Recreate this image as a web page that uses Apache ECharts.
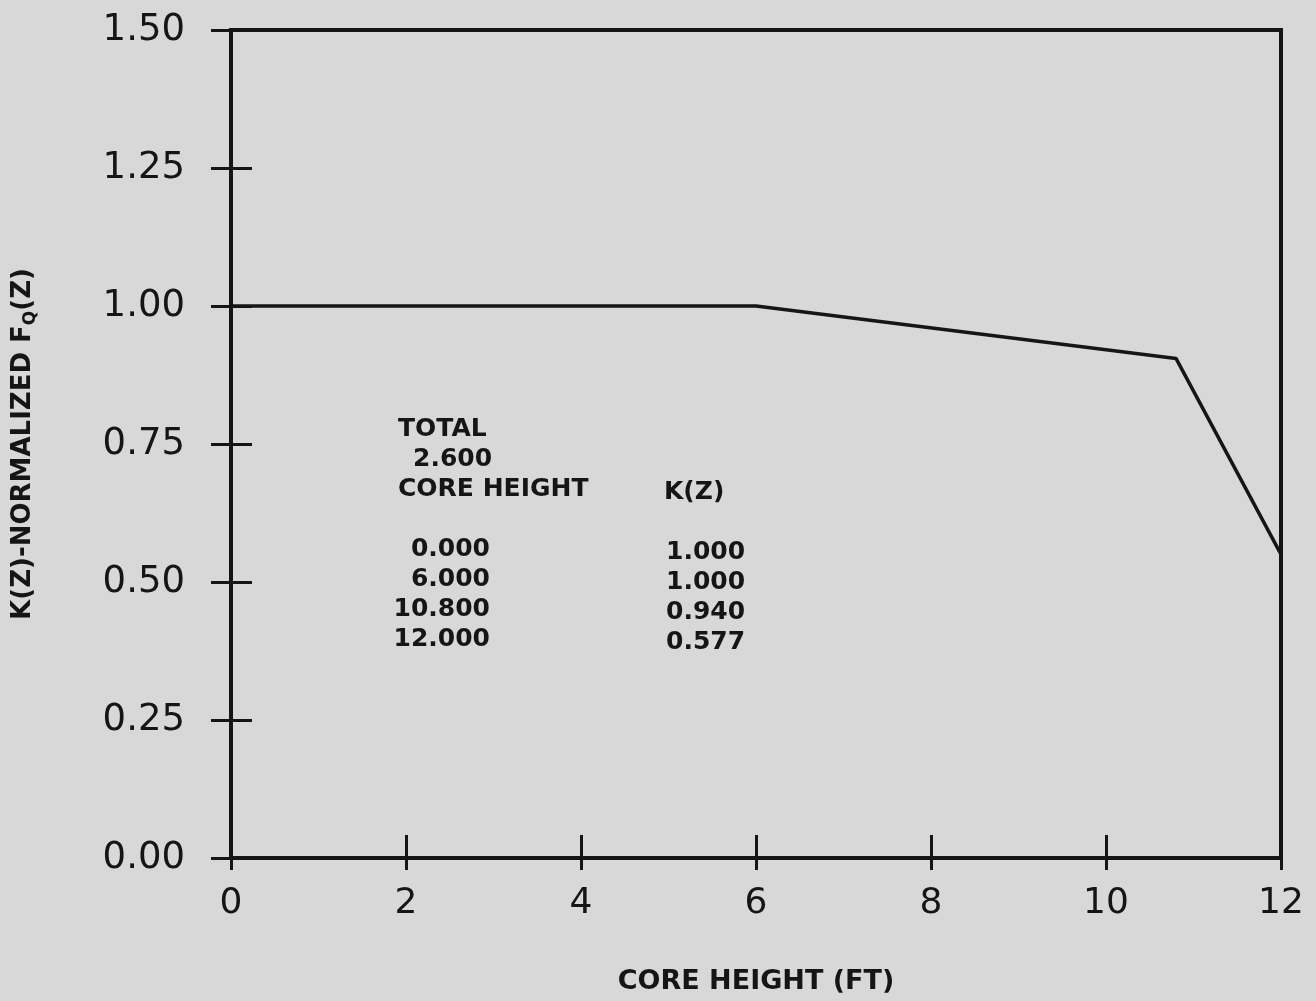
<!DOCTYPE html>
<html>
<head>
<meta charset="utf-8">
<script src="https://cdn.jsdelivr.net/npm/echarts@6/dist/echarts.min.js"></script>
<style>
html,body{margin:0;padding:0;background:#d8d8d8;}
#c{width:1316px;height:1001px;}
</style>
</head>
<body>
<div id="c"></div>
<script>
// Data
const coreHeight = [0, 6, 10.8, 12];
const kz = [1.0, 1.0, 0.905, 0.55];
const xTicks = [0, 2, 4, 6, 8, 10, 12];
const yTickLabels = ['0.00', '0.25', '0.50', '0.75', '1.00', '1.25', '1.50'];
const tableTotal = '2.600';
const tableHeights = ['0.000', '6.000', '10.800', '12.000'];
const tableK = ['1.000', '1.000', '0.940', '0.577'];

const ink = '#151515';
const fontFam = '"DejaVu Sans", sans-serif';
const chart = echarts.init(document.getElementById('c'));

const textStyleBig = {fill: ink, font: 'bold 25px ' + fontFam};
const graphics = [
  {type: 'text', left: 398, top: 417, style: Object.assign({text: 'TOTAL'}, textStyleBig)},
  {type: 'text', left: 413, top: 447, style: Object.assign({text: tableTotal}, textStyleBig)},
  {type: 'text', left: 398, top: 477, style: Object.assign({text: 'CORE HEIGHT'}, textStyleBig)},
  {type: 'text', left: 664, top: 480, style: Object.assign({text: 'K(Z)'}, textStyleBig)}
];
tableHeights.forEach((t, i) => {
  graphics.push({type: 'text', right: 1316 - 490, top: 537 + i * 30,
    style: Object.assign({text: t, textAlign: 'right'}, textStyleBig)});
});
tableK.forEach((t, i) => {
  graphics.push({type: 'text', left: 666, top: 540 + i * 30,
    style: Object.assign({text: t}, textStyleBig)});
});

chart.setOption({
  backgroundColor: '#d8d8d8',
  animation: false,
  grid: {left: 231, right: 35, top: 30, bottom: 143, show: true,
    borderColor: ink, borderWidth: 4, backgroundColor: 'transparent'},
  xAxis: [
    {type: 'value', min: 0, max: 12, interval: 2, position: 'bottom',
      axisLine: {show: true, onZero: false, lineStyle: {color: ink, width: 4}},
      axisTick: {show: true, length: 12, lineStyle: {color: ink, width: 3}},
      axisLabel: {color: ink, fontSize: 36, fontFamily: fontFam, margin: 28,
        formatter: v => xTicks.indexOf(v) >= 0 ? String(v) : ''},
      splitLine: {show: false},
      name: 'CORE HEIGHT (FT)', nameLocation: 'middle', nameGap: 110,
      nameTextStyle: {color: ink, fontSize: 27, fontWeight: 'bold', fontFamily: fontFam}},
    {type: 'value', min: 0, max: 12, interval: 2, position: 'bottom',
      axisLine: {show: false, onZero: false},
      axisTick: {show: true, inside: true, length: 23, lineStyle: {color: ink, width: 3}},
      axisLabel: {show: false}, splitLine: {show: false}}
  ],
  yAxis: [
    {type: 'value', min: 0, max: 1.5, interval: 0.25, position: 'left',
      axisLine: {show: true, onZero: false, lineStyle: {color: ink, width: 4}},
      axisTick: {show: true, length: 20, lineStyle: {color: ink, width: 3}},
      axisLabel: {color: ink, fontSize: 37, fontFamily: fontFam, margin: 46,
        formatter: v => yTickLabels[Math.round(v / 0.25)]},
      splitLine: {show: false},
      name: 'K(Z)-NORMALIZED F{sub|Q}(Z)', nameLocation: 'middle', nameGap: 192, nameRotate: 90,
      nameTextStyle: {color: ink, fontSize: 26, fontWeight: 'bold', fontFamily: fontFam,
        rich: {sub: {fontSize: 17, fontWeight: 'bold', verticalAlign: 'bottom', padding: [14, 0, 0, 0], color: ink}}}},
    {type: 'value', min: 0, max: 1.5, interval: 0.25, position: 'left',
      axisLine: {show: false, onZero: false},
      axisTick: {show: true, inside: true, length: 21, lineStyle: {color: ink, width: 3}},
      axisLabel: {show: false}, splitLine: {show: false}}
  ],
  series: [{
    type: 'line', xAxisIndex: 0, yAxisIndex: 0,
    data: coreHeight.map((x, i) => [x, kz[i]]),
    showSymbol: false, symbol: 'none',
    lineStyle: {color: ink, width: 3.5}
  }],
  graphic: graphics
});
</script>
</body>
</html>
